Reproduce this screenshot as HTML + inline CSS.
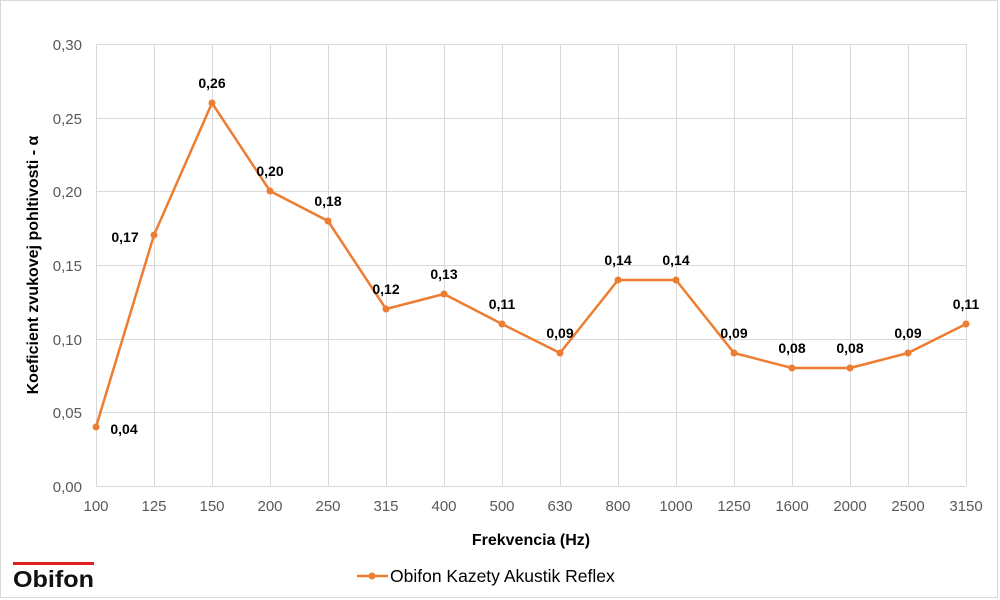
<!DOCTYPE html>
<html><head><meta charset="utf-8"><style>
html,body{margin:0;padding:0;background:#fff}
svg{display:block;font-family:"Liberation Sans",sans-serif}
</style></head><body>
<svg width="1000" height="600" viewBox="0 0 1000 600">
<rect x="0.5" y="0.5" width="997" height="597" fill="#fff" stroke="#d9d9d9"/>
<g stroke="#d9d9d9" stroke-width="1">
<line x1="96" y1="44.5" x2="966" y2="44.5"/>
<line x1="96" y1="118.5" x2="966" y2="118.5"/>
<line x1="96" y1="191.5" x2="966" y2="191.5"/>
<line x1="96" y1="265.5" x2="966" y2="265.5"/>
<line x1="96" y1="339.5" x2="966" y2="339.5"/>
<line x1="96" y1="412.5" x2="966" y2="412.5"/>
<line x1="96" y1="486.5" x2="966" y2="486.5"/>
<line x1="96.5" y1="44" x2="96.5" y2="486"/><line x1="154.5" y1="44" x2="154.5" y2="486"/><line x1="212.5" y1="44" x2="212.5" y2="486"/><line x1="270.5" y1="44" x2="270.5" y2="486"/><line x1="328.5" y1="44" x2="328.5" y2="486"/><line x1="386.5" y1="44" x2="386.5" y2="486"/><line x1="444.5" y1="44" x2="444.5" y2="486"/><line x1="502.5" y1="44" x2="502.5" y2="486"/><line x1="560.5" y1="44" x2="560.5" y2="486"/><line x1="618.5" y1="44" x2="618.5" y2="486"/><line x1="676.5" y1="44" x2="676.5" y2="486"/><line x1="734.5" y1="44" x2="734.5" y2="486"/><line x1="792.5" y1="44" x2="792.5" y2="486"/><line x1="850.5" y1="44" x2="850.5" y2="486"/><line x1="908.5" y1="44" x2="908.5" y2="486"/><line x1="966.5" y1="44" x2="966.5" y2="486"/>
</g>
<g fill="#595959" font-size="15" text-anchor="end">
<text x="82" y="50">0,30</text><text x="82" y="124">0,25</text><text x="82" y="197">0,20</text><text x="82" y="271">0,15</text><text x="82" y="345">0,10</text><text x="82" y="418">0,05</text><text x="82" y="492">0,00</text>
</g>
<g fill="#595959" font-size="15" text-anchor="middle">
<text x="96" y="511">100</text><text x="154" y="511">125</text><text x="212" y="511">150</text><text x="270" y="511">200</text><text x="328" y="511">250</text><text x="386" y="511">315</text><text x="444" y="511">400</text><text x="502" y="511">500</text><text x="560" y="511">630</text><text x="618" y="511">800</text><text x="676" y="511">1000</text><text x="734" y="511">1250</text><text x="792" y="511">1600</text><text x="850" y="511">2000</text><text x="908" y="511">2500</text><text x="966" y="511">3150</text>
</g>
<polyline fill="none" stroke="#ed7d31" stroke-width="2.5" stroke-linejoin="round" points="96,427 154,235 212,103 270,191 328,221 386,309 444,294 502,324 560,353 618,280 676,280 734,353 792,368 850,368 908,353 966,324"/>
<g fill="#ed7d31">
<circle cx="96" cy="427" r="3.5"/><circle cx="154" cy="235" r="3.5"/><circle cx="212" cy="103" r="3.5"/><circle cx="270" cy="191" r="3.5"/><circle cx="328" cy="221" r="3.5"/><circle cx="386" cy="309" r="3.5"/><circle cx="444" cy="294" r="3.5"/><circle cx="502" cy="324" r="3.5"/><circle cx="560" cy="353" r="3.5"/><circle cx="618" cy="280" r="3.5"/><circle cx="676" cy="280" r="3.5"/><circle cx="734" cy="353" r="3.5"/><circle cx="792" cy="368" r="3.5"/><circle cx="850" cy="368" r="3.5"/><circle cx="908" cy="353" r="3.5"/><circle cx="966" cy="324" r="3.5"/>
</g>
<g fill="#000" font-size="14" font-weight="bold" text-anchor="middle">
<text x="124" y="434">0,04</text><text x="125" y="242">0,17</text><text x="212" y="88">0,26</text><text x="270" y="176">0,20</text><text x="328" y="206">0,18</text><text x="386" y="294">0,12</text><text x="444" y="279">0,13</text><text x="502" y="309">0,11</text><text x="560" y="338">0,09</text><text x="618" y="265">0,14</text><text x="676" y="265">0,14</text><text x="734" y="338">0,09</text><text x="792" y="353">0,08</text><text x="850" y="353">0,08</text><text x="908" y="338">0,09</text><text x="966" y="309">0,11</text>
</g>
<text x="0" y="0" transform="translate(38,265) rotate(-90)" font-size="16" font-weight="bold" text-anchor="middle" fill="#000">Koeficient zvukovej pohltivosti - α</text>
<text x="531" y="545" font-size="16" font-weight="bold" text-anchor="middle" fill="#000">Frekvencia (Hz)</text>
<line x1="357" y1="576" x2="388" y2="576" stroke="#ed7d31" stroke-width="2.5"/>
<circle cx="372" cy="576" r="3.5" fill="#ed7d31"/>
<text x="390" y="582" font-size="17.5" fill="#000">Obifon Kazety Akustik Reflex</text>
<rect x="13" y="562" width="81" height="3" fill="#e02020"/>
<text x="13" y="587" font-size="23" font-weight="bold" fill="#111" textLength="81" lengthAdjust="spacingAndGlyphs">Obifon</text>
</svg>
</body></html>
